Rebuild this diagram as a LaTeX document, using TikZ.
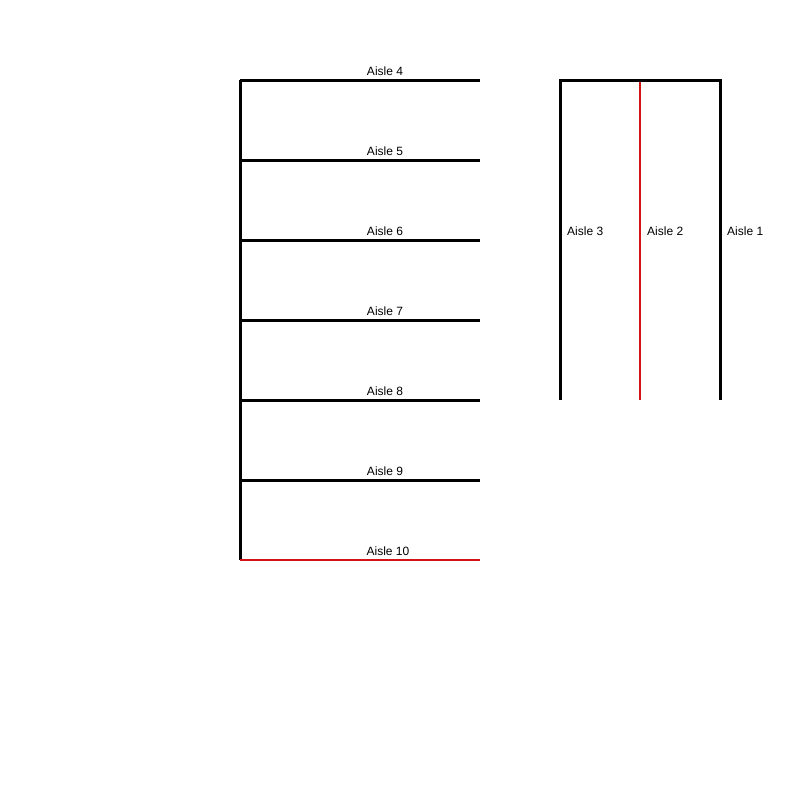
\documentclass[tikz,border=0pt]{standalone}
\usepackage{fontspec}
\setmainfont{Liberation Sans}
\definecolor{aislered}{RGB}{210,20,20}
\begin{document}
\begin{tikzpicture}[x=1pt,y=-1pt,
  blk/.style={line width=3pt,black},
  redl/.style={line width=2.2pt,aislered},
  lbl/.style={font=\fontsize{12}{14}\selectfont,inner sep=0pt}]
\useasboundingbox (0,0) rectangle (800,800);
% left block
\coordinate (L4) at (240,80);
\coordinate (L10) at (240,560);
\foreach \n/\y in {4/80,5/160,6/240,7/320,8/400,9/480}{
  \coordinate (a\n) at (240,\y);
  \coordinate (b\n) at (480,\y);
  \draw[blk] (a\n) -- (b\n);
  \node[lbl] (t\n) at (385,\y-9) {Aisle \n};
}
\coordinate (a10) at (240,560);
\coordinate (b10) at (480,560);
\draw[blk] (L4) -- (L10);
\draw[redl] (a10) -- (b10);
\node[lbl] (t10) at (388,551) {Aisle 10};
% right block
\coordinate (r3t) at (560,80);
\coordinate (r3b) at (560,400);
\coordinate (r2t) at (640,80);
\coordinate (r2b) at (640,400);
\coordinate (r1t) at (720,80);
\coordinate (r1b) at (720,400);
\draw[redl] (r2t) -- (r2b);
\draw[blk] (r3b) -- (r3t) -- (r1t) -- (r1b);
\node[lbl,anchor=west] (t3) at (567,231) {Aisle 3};
\node[lbl,anchor=west] (t2) at (647,231) {Aisle 2};
\node[lbl,anchor=west] (t1) at (727,231) {Aisle 1};
\end{tikzpicture}
\end{document}
